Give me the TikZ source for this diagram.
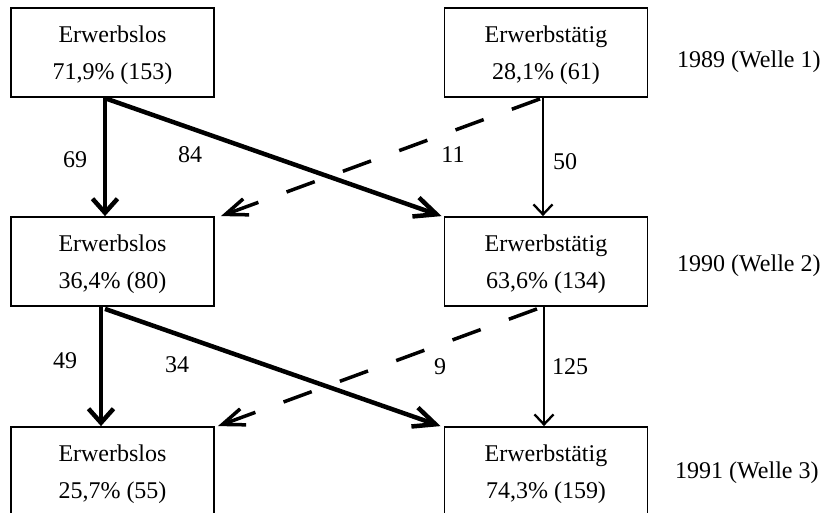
\documentclass[tikz,border=0pt]{standalone}
\usepackage{fontspec}
\setmainfont{Liberation Serif}
\usetikzlibrary{arrows.meta,calc}
\begin{document}
\begin{tikzpicture}[x=1pt,y=-1pt,
  box/.style={draw,line width=1.8pt,minimum width=203pt,minimum height=89pt,inner sep=0pt,
    align=center,font=\fontsize{24}{37}\selectfont},
  lbl/.style={anchor=base,inner sep=0pt,font=\fontsize{24}{29}\selectfont},
  yr/.style={anchor=base west,inner sep=0pt,font=\fontsize{24}{29}\selectfont},
  thickv/.style={line width=4.5pt,-{Straight Barb[length=14pt,width=25pt]}},
  thickd/.style={line width=4.5pt,-{Straight Barb[length=22pt,width=20pt]}},
  thinv/.style={line width=2.3pt,-{Straight Barb[length=10pt,width=19pt]}},
  dasharr/.style={line width=3.5pt,dash pattern=on 30pt off 30pt,-{Straight Barb[length=22pt,width=17pt]}}
]
\useasboundingbox (0,0) rectangle (825,513);
\clip (0,0) rectangle (825,513);

% boxes
\node[box] (e1) at (112.5,52.5) {\rule{0pt}{23pt}Erwerbslos\\71,9\% (153)};
\node[box] (w1) at (546,52.5) {\rule{0pt}{23pt}Erwerbstätig\\28,1\% (61)};
\node[box] (e2) at (112.5,261.5) {\rule{0pt}{23pt}Erwerbslos\\36,4\% (80)};
\node[box] (w2) at (546,261.5) {\rule{0pt}{23pt}Erwerbstätig\\63,6\% (134)};
\node[box] (e3) at (112.5,471.5) {\rule{0pt}{23pt}Erwerbslos\\25,7\% (55)};
\node[box] (w3) at (546,471.5) {\rule{0pt}{23pt}Erwerbstätig\\74,3\% (159)};

% year labels
\node[yr] (y1) at (677,68) {1989 (Welle 1)};
\node[yr] (y2) at (677,272) {1990 (Welle 2)};
\node[yr] (y3) at (675,478) {1991 (Welle 3)};

% connectors 1989 -> 1990
\draw[thickv] ($(e1.south)+(-7.5,0)$) -- ($(e2.north)+(-7.5,0)$);
\draw[thickd] ($(e1.south)+(-5.5,1)$) -- ($(w2.north west)+(-2,0)$);
\draw[dasharr] ($(w1.south)+(-6,1)$) -- ($(e2.north east)+(6,0)$);
\draw[thinv] ($(w1.south)+(-3,0)$) -- ($(w2.north)+(-3,0)$);

% connectors 1990 -> 1991
\draw[thickv] ($(e2.south)+(-11.5,0)$) -- ($(e3.north)+(-11.5,0)$);
\draw[thickd] ($(e2.south)+(-7.5,2)$) -- ($(w3.north west)+(-3,0)$);
\draw[dasharr] ($(w2.south)+(-9,2)$) -- ($(e3.north east)+(3,0)$);
\draw[thinv] ($(w2.south)+(-2,0)$) -- ($(w3.north)+(-2,0)$);

% flow labels
\node[lbl] (l69) at (75,168) {69};
\node[lbl] (l84) at (190,163) {84};
\node[lbl] (l11) at (453,163) {11};
\node[lbl] (l50) at (565,170) {50};
\node[lbl] (l49) at (65,368) {49};
\node[lbl] (l34) at (177,372) {34};
\node[lbl] (l9) at (440,374) {9};
\node[lbl] (l125) at (570,374) {125};
\end{tikzpicture}
\end{document}
